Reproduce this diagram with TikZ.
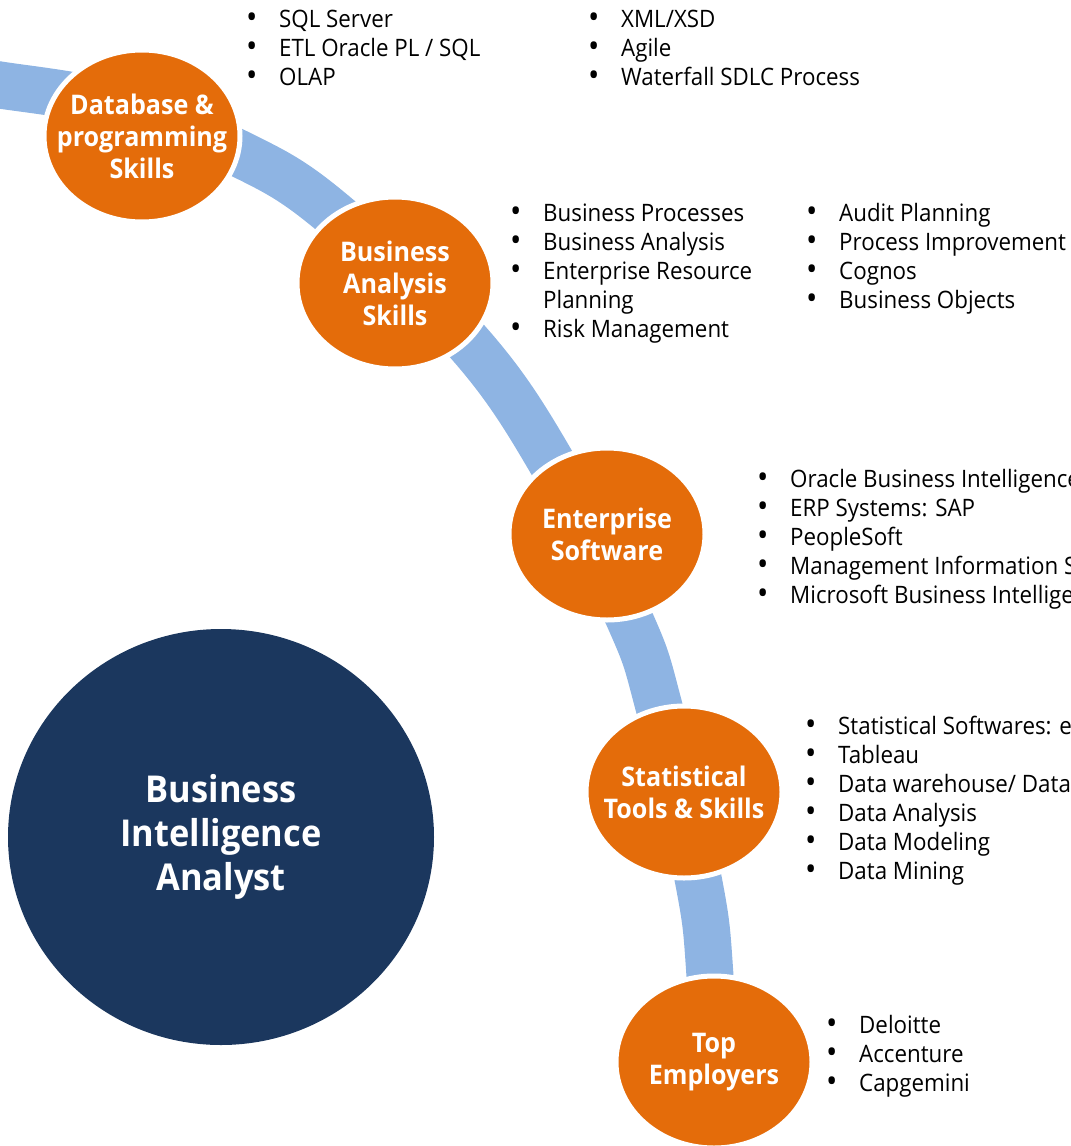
\documentclass[tikz,border=0pt]{standalone}
\usepackage{fontspec}
\setmainfont{Open Sans}[FakeStretch=0.93]
\usetikzlibrary{shapes.geometric}
\definecolor{bianavy}{HTML}{1B375E}
\definecolor{biaorange}{HTML}{E46C0A}
\definecolor{biablue}{HTML}{8EB4E3}
\newcommand{\skilllist}[1]{\begin{tabular}[t]{@{}p{33pt}@{}l@{}}#1\end{tabular}}
\newcommand{\itm}{\raisebox{-1.5pt}{\scalebox{1.35}{\textbullet}} &}

\begin{document}
\begin{tikzpicture}[x=1pt, y=-1pt,
    band/.style={line width=47pt, biablue},
    stage/.style={ellipse, fill=biaorange, draw=white, line width=5pt, minimum width=196pt, minimum height=172pt, inner xsep=-25pt, inner ysep=0pt, text=white, align=center, font=\fontsize{27}{32}\selectfont\bfseries},
    hub/.style={ellipse, fill=bianavy, minimum width=426pt, minimum height=416pt, inner sep=0pt, text=white, align=center, font=\fontsize{37}{44}\selectfont\bfseries},
    items/.style={anchor=base west, inner sep=0pt, font=\fontsize{24}{29}\selectfont}
  ]
  \useasboundingbox (0,0) rectangle (1071,1146);
  \clip (0,0) rectangle (1071,1146);

  \draw[band] plot[smooth, tension=0.6] coordinates {(-30,82) (0,85) (120,106) (240,154) (329,210) (466,340) (549,458) (629,618) (658,703) (698,878) (710,976) (718,1170)};

  \node[hub] (bia) at (221,837) {Business\\Intelligence\\Analyst};

  \node[stage] (db) at (142,136) {Database \&\\programming\\Skills};
  \node[stage] (ba) at (395,283) {Business\\Analysis\\Skills};
  \node[stage] (es) at (607,534) {Enterprise\\Software};
  \node[stage] (st) at (684,792) {Statistical\\Tools \& Skills};
  \node[stage] (te) at (714,1062) {Top\\Employers};

  \node[items] (dbl) at (246,27) {\skilllist{\itm SQL Server\\ \itm ETL Oracle PL / SQL\\ \itm OLAP}};
  \node[items] (dbr) at (588,27) {\skilllist{\itm XML/XSD\\ \itm Agile\\ \itm Waterfall SDLC Process}};
  \node[items] (bal) at (510,221) {\skilllist{\itm Business Processes\\ \itm Business Analysis\\ \itm Enterprise Resource\\ & Planning\\ \itm Risk Management}};
  \node[items] (bar) at (806,221) {\skilllist{\itm Audit Planning\\ \itm Process Improvement\\ \itm Cognos\\ \itm Business Objects}};
  \node[items] (esl) at (757,487) {\skilllist{\itm Oracle Business Intelligence\\ \itm ERP Systems: SAP\\ \itm PeopleSoft\\ \itm Management Information S\\ \itm Microsoft Business Intellige}};
  \node[items] (stl) at (805,734) {\skilllist{\itm Statistical Softwares: e\\ \itm Tableau\\ \itm Data warehouse/ Data\\ \itm Data Analysis\\ \itm Data Modeling\\ \itm Data Mining}};
  \node[items] (tel) at (826,1033) {\skilllist{\itm Deloitte\\ \itm Accenture\\ \itm Capgemini}};
\end{tikzpicture}
\end{document}
